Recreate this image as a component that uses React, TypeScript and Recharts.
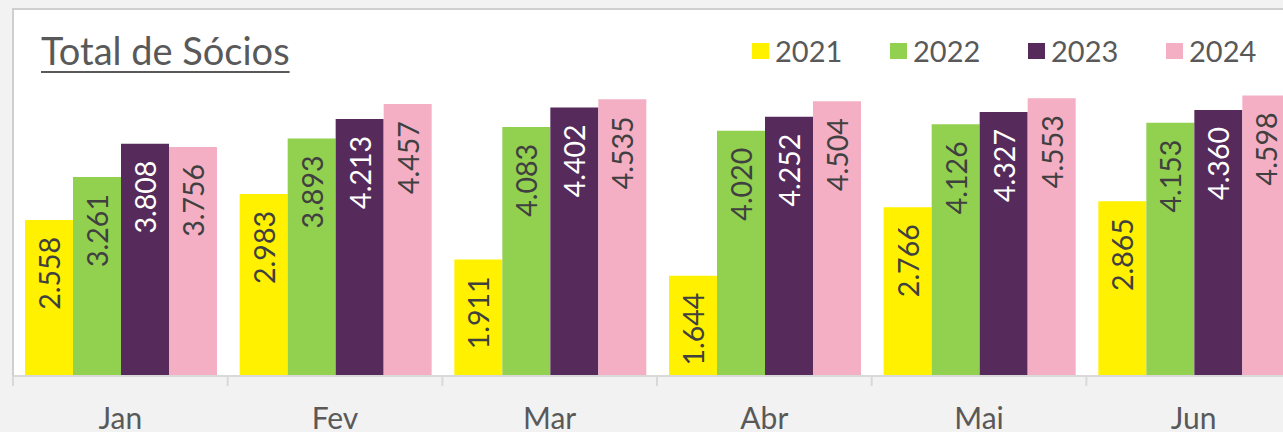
import { BarChart, Bar, XAxis, YAxis } from "recharts";

const months = ["Jan", "Fev", "Mar", "Abr", "Mai", "Jun"];
const s2021 = [2558, 2983, 1911, 1644, 2766, 2865];
const s2022 = [3261, 3893, 4083, 4020, 4126, 4153];
const s2023 = [3808, 4213, 4402, 4252, 4327, 4360];
const s2024 = [3756, 4457, 4535, 4504, 4553, 4598];

const SERIES = [
  { key: "2021", color: "#fff100", text: "#404040" },
  { key: "2022", color: "#92d050", text: "#404040" },
  { key: "2023", color: "#562a5b", text: "#ffffff" },
  { key: "2024", color: "#f4afc5", text: "#404040" },
];

const data = months.map((m, i) => ({
  month: m,
  "2021": s2021[i],
  "2022": s2022[i],
  "2023": s2023[i],
  "2024": s2024[i],
}));

const FONT = "Lato, 'Noto Sans', sans-serif";
const CHART_W = 1310;
const CHART_H = 432;
const M_LEFT = 13;
const M_RIGHT = 9;
const BAND = (CHART_W - M_LEFT - M_RIGHT) / months.length;

// thousands with a dot, like pt-BR
const fmt = (v: number) => (v / 1000).toFixed(3);

function makeLabel(color: string) {
  return (p: any) => {
    const cx = p.x + p.width / 2;
    const y = p.y + 17;
    return (
      <text
        x={cx}
        y={y}
        transform={`rotate(-90 ${cx} ${y})`}
        textAnchor="end"
        dominantBaseline="central"
        fill={color}
        fontSize={28.5}
        fontFamily={FONT}
      >
        {fmt(p.value)}
      </text>
    );
  };
}

function MonthTick(p: any) {
  const left = p.x - BAND / 2;
  return (
    <g>
      <line x1={left} x2={left} y1={p.y - 8} y2={p.y + 2} stroke="#d9d9d9" strokeWidth={2} />
      <text x={p.x} y={429} textAnchor="middle" fill="#595959" fontSize={30} fontFamily={FONT}>
        {p.payload.value}
      </text>
    </g>
  );
}

function LegendBox() {
  return (
    <div style={{ display: "flex", fontFamily: FONT }}>
      {SERIES.map((s) => (
        <div key={s.key} style={{ width: 138, display: "flex", alignItems: "center" }}>
          <span style={{ width: 17, height: 16, background: s.color, marginRight: 6 }} />
          <span style={{ fontSize: 29, color: "#595959", lineHeight: "32px" }}>{s.key}</span>
        </div>
      ))}
    </div>
  );
}

export default function App() {
  return (
    <div
      style={{
        position: "fixed",
        left: 0,
        top: 0,
        width: 1283,
        height: 432,
        overflow: "hidden",
        background: "#f2f2f2",
      }}
    >
      <div
        style={{
          position: "absolute",
          left: 12,
          top: 8,
          width: 1400,
          height: 368,
          background: "#fff",
          borderLeft: "2px solid #cfcfcf",
          borderTop: "2px solid #cfcfcf",
          boxSizing: "border-box",
        }}
      />
      <div
        style={{
          position: "absolute",
          left: 41,
          top: 27,
          fontFamily: FONT,
          fontSize: 38,
          color: "#595959",
          textDecoration: "underline",
          textDecorationThickness: 2,
          textUnderlineOffset: 6,
          lineHeight: "46px",
        }}
      >
        Total de Sócios
      </div>
      <div style={{ position: "absolute", left: 752, top: 35 }}>
        <LegendBox />
      </div>
      <div style={{ position: "absolute", left: 0, top: 0 }}>
        <BarChart
          width={CHART_W}
          height={CHART_H}
          data={data}
          margin={{ top: 10, right: M_RIGHT, left: M_LEFT, bottom: 0 }}
          barCategoryGap={12}
          barGap={0}
        >
          <XAxis
            dataKey="month"
            height={56}
            axisLine={{ stroke: "#d9d9d9", strokeWidth: 2 }}
            tickLine={false}
            tick={<MonthTick />}
            interval={0}
          />
          <YAxis hide domain={[0, 6000]} />
          {SERIES.map((s) => (
            <Bar
              key={s.key}
              dataKey={s.key}
              fill={s.color}
              isAnimationActive={false}
              label={makeLabel(s.text)}
            />
          ))}
        </BarChart>
      </div>
    </div>
  );
}
